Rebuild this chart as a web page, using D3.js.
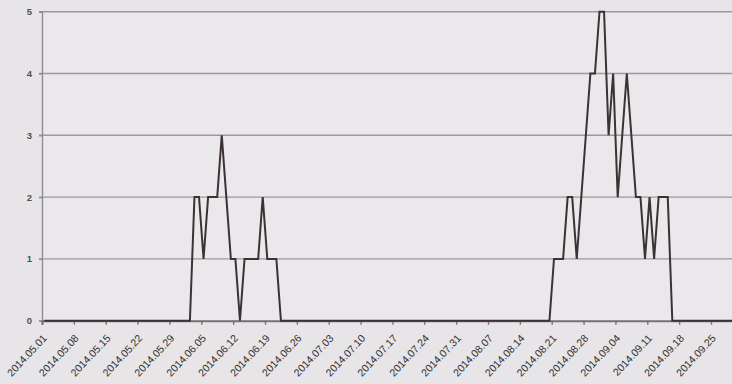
<!DOCTYPE html>
<html>
<head>
<meta charset="utf-8">
<script src="https://cdn.jsdelivr.net/npm/d3@7/dist/d3.min.js"></script>
<style>
html,body{margin:0;padding:0;background:#e8e5e8;}
svg{display:block;}
</style>
</head>
<body>
<svg id="chart" width="732" height="384"></svg>
<script>
// Daily values from 2014-05-01 to 2014-09-30
const startDate = "2014-05-01";
const endDate = "2014-10-01";
const values = [
  // May (1-31)
  0,0,0,0,0,0,0,0,0,0, 0,0,0,0,0,0,0,0,0,0, 0,0,0,0,0,0,0,0,0,0, 0,
  // June (1-30)
  0,0,2,2,1,2,2,2,3,2, 1,1,0,1,1,1,1,2,1,1, 1,0,0,0,0,0,0,0,0,0,
  // July (1-31)
  0,0,0,0,0,0,0,0,0,0, 0,0,0,0,0,0,0,0,0,0, 0,0,0,0,0,0,0,0,0,0, 0,
  // August (1-31)
  0,0,0,0,0,0,0,0,0,0, 0,0,0,0,0,0,0,0,0,0, 1,1,1,2,2,1,2,3,4,4, 5,
  // September (1-30)
  5,3,4,2,3,4,3,2,2,1, 2,1,2,2,2,0,0,0,0,0, 0,0,0,0,0,0,0,0,0,0
];
const yTicks = [0,1,2,3,4,5];
const tickLabelFormat = "%Y.%m.%d";

const parse = d3.timeParse("%Y-%m-%d");
const dates = d3.timeDay.range(parse(startDate), parse(endDate));
const data = dates.map((d,i)=>({date:d, value:values[i]}));

const svg = d3.select("#chart");
const mLeft = 42, mTop = 11.7, mBottom = 320.7;
const dayPx = 4.551;
const x = d3.scaleTime()
  .domain([parse(startDate), parse(endDate)])
  .range([mLeft, mLeft + dayPx * dates.length]);
const y = d3.scaleLinear().domain([0,5]).range([mBottom, mTop]);

svg.append("rect").attr("width",732).attr("height",384).attr("fill","#e8e5e8");
svg.append("rect").attr("x",mLeft).attr("y",mTop).attr("width",732-mLeft).attr("height",mBottom-mTop).attr("fill","#ebe8eb");

// gridlines
svg.append("g").selectAll("line").data(yTicks.filter(t=>t>0)).join("line")
  .attr("x1",mLeft-3).attr("x2",732)
  .attr("y1",d=>y(d)).attr("y2",d=>y(d))
  .attr("stroke","#9b999c").attr("stroke-width",1.4);

// y axis
const yAxis = d3.axisLeft(y).tickValues(yTicks).tickSize(3).tickPadding(7).tickFormat(d3.format("d"));
const gy = svg.append("g").attr("transform",`translate(${mLeft},0)`).call(yAxis);
gy.select(".domain").attr("stroke","#8f8d90").attr("stroke-width",1.4);
gy.selectAll(".tick line").attr("stroke","#8f8d90").attr("stroke-width",1.4);
gy.selectAll("text").attr("fill","#505050").attr("font-family","Liberation Sans, Arial, sans-serif")
  .attr("font-size","9.5px").attr("font-weight","bold");

// x axis
const weekly = d3.timeDay.range(parse(startDate), parse(endDate), 7);
const xAxis = d3.axisBottom(x).tickValues(weekly).tickSize(4).tickFormat(d3.timeFormat(tickLabelFormat));
const gx = svg.append("g").attr("transform",`translate(0,${mBottom})`).call(xAxis);
gx.select(".domain").attr("stroke","#747275").attr("stroke-width",2);
gx.selectAll(".tick line").attr("stroke","#747275").attr("stroke-width",1.4);
gx.selectAll("text")
  .attr("fill","#333").attr("font-family","Liberation Sans, Arial, sans-serif")
  .attr("font-size","10.5px")
  .attr("text-anchor","end")
  .attr("dy",null).attr("y",null)
  .attr("transform","translate(5,18) rotate(-47)");

// line
const line = d3.line()
  .x(d=>x(d3.timeHour.offset(d.date,12)))
  .y(d=>y(d.value));
svg.append("path").datum(data)
  .attr("d",line).attr("fill","none")
  .attr("stroke","#3b3236").attr("stroke-width",2).attr("stroke-linejoin","miter");
</script>
</body>
</html>
